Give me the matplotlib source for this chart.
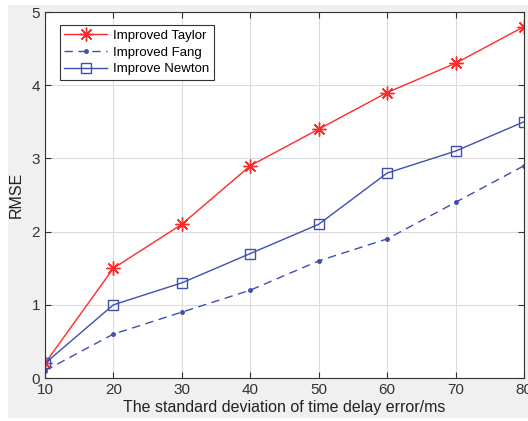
import numpy as np
import matplotlib.pyplot as plt

plt.rcParams['font.family'] = ['Liberation Sans', 'DejaVu Sans']

# x values: standard deviation of time delay error (ms)
sigma = [10, 20, 30, 40, 50, 60, 70, 80]
taylor = [0.2, 1.5, 2.1, 2.9, 3.4, 3.9, 4.3, 4.8]
fang = [0.1, 0.6, 0.9, 1.2, 1.6, 1.9, 2.4, 2.9]
newton = [0.2, 1.0, 1.3, 1.7, 2.1, 2.8, 3.1, 3.5]

fig = plt.figure(figsize=(5.28, 4.21), dpi=100, facecolor='white')
# grey MATLAB-style figure background
fig.patches.append(plt.Rectangle((8/528, 3/421), 1, 1 - 8/421, transform=fig.transFigure,
                                 facecolor='#f0f0f0', edgecolor='none', zorder=-10))
ax = fig.add_axes([45/528, 1 - 378/421, (524 - 45)/528, (378 - 12)/421])
ax.set_facecolor('white')

red = '#ff2a2a'
blue = '#3f4fb0'
ax.plot(sigma, taylor, '-', color=red, lw=1, marker=(8, 2, 0), ms=10, mew=1,
        label='Improved Taylor')
ax.plot(sigma, fang, '--', color=blue, lw=1, marker='.', ms=5, dashes=(6, 4),
        label='Improved Fang')
ax.plot(sigma, newton, '-', color=blue, lw=1, marker='s', ms=7, mfc='none', mew=1,
        label='Improve Newton')

ax.set_xlim(10, 80)
ax.set_ylim(0, 5)
ax.set_xticks(sigma)
ax.set_yticks([0, 1, 2, 3, 4, 5])
ax.grid(True, color='#dcdcdc', lw=0.8)
ax.set_axisbelow(True)
ax.tick_params(direction='in', top=True, right=True, labelsize=11,
               colors='#333333', length=4)
for s in ax.spines.values():
    s.set_color('#333333')
    s.set_linewidth(0.8)

ax.set_xlabel('The standard deviation of time delay error/ms', fontsize=11.5,
              color='#222222', labelpad=2)
ax.set_ylabel('RMSE', fontsize=11.5, color='#222222', labelpad=6)

leg = ax.legend(loc='upper left', bbox_to_anchor=(0.031, 0.965), fontsize=9.5,
                fancybox=False, framealpha=1, edgecolor='#333333',
                handlelength=3.2, borderpad=0.35, labelspacing=0.35,
                handletextpad=0.5, borderaxespad=0)
leg.get_frame().set_linewidth(0.8)

fig.savefig('out.png', dpi=100, facecolor=fig.get_facecolor())
